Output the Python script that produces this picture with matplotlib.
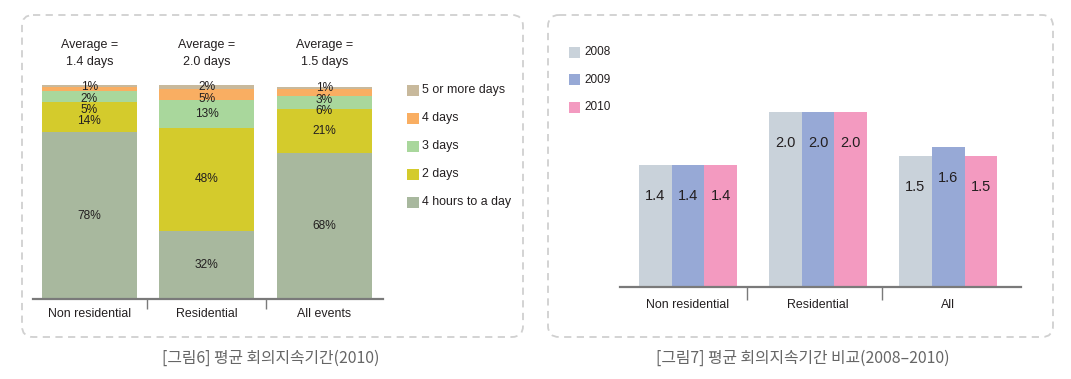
import matplotlib
matplotlib.use("Agg")
import matplotlib.pyplot as plt
from matplotlib.patches import FancyBboxPatch, Rectangle
import numpy as np

# ---------------- data ----------------
stack_categories = ["Non residential", "Residential", "All events"]
stack_averages = ["1.4", "2.0", "1.5"]
duration_levels = ["4 hours to a day", "2 days", "3 days", "4 days", "5 or more days"]
share_4h = [78, 32, 68]
share_2d = [14, 48, 21]
share_3d = [5, 13, 6]
share_4d = [2, 5, 3]
share_5d = [1, 2, 1]

year_categories = ["Non residential", "Residential", "All"]
years = ["2008", "2009", "2010"]
avg_2008 = [1.4, 2.0, 1.5]
avg_2009 = [1.4, 2.0, 1.6]
avg_2010 = [1.4, 2.0, 1.5]

caption_left = "[그림6] 평균 회의지속기간(2010)"
caption_right = "[그림7] 평균 회의지속기간 비교(2008–2010)"

# ---------------- style ----------------
stack_colors = ["#a8b89e", "#d4cb2c", "#a9d79c", "#f9ae62", "#c8b99c"]
year_colors = ["#c9d2da", "#97a9d6", "#f39ac0"]
TXT = "#231f20"
AXC = "#7a7a7a"

W, H = 1071, 379
fig = plt.figure(figsize=(W / 100, H / 100), dpi=100)
fig.patch.set_facecolor("white")

KR = ["Noto Sans CJK KR", "DejaVu Sans"]
plt.rcParams["font.family"] = ["Liberation Sans", "DejaVu Sans"]


def px_axes(x0, y0, x1, y1, **kw):
    return fig.add_axes([x0 / W, 1 - y1 / H, (x1 - x0) / W, (y1 - y0) / H], **kw)


# background overlay (panels, legends)
bg = px_axes(0, 0, W, H, zorder=0)
bg.set_xlim(0, W)
bg.set_ylim(H, 0)
bg.axis("off")
for (x0, y0, x1, y1) in [(22, 15, 523, 337), (548, 15, 1053, 337)]:
    bg.add_patch(FancyBboxPatch((x0, y0), x1 - x0, y1 - y0,
                                boxstyle="round,pad=0,rounding_size=11",
                                fc="none", ec="#d0d0d0", lw=1.3, ls=(0, (4, 3))))

fig.text(271 / W, 1 - 358 / H, caption_left, family=KR, fontsize=11.4,
         color="#666666", ha="center", va="center")
fig.text(803 / W, 1 - 358 / H, caption_right, family=KR, fontsize=11.4,
         color="#666666", ha="center", va="center")


def style_axes(ax, seps, sep_len):
    for s in ["left", "right", "top"]:
        ax.spines[s].set_visible(False)
    ax.spines["bottom"].set_color(AXC)
    ax.spines["bottom"].set_linewidth(1.6)
    ax.set_yticks([])
    ax.set_xticks([])
    ax.set_xticks(seps, minor=True)
    ax.tick_params(axis="x", which="minor", length=sep_len, width=1.0, color=AXC,
                   labelbottom=False)
    ax.patch.set_alpha(0)


# ---------------- left: stacked bars ----------------
L_TOP, L_BASE = 85, 299
axL = px_axes(33, L_TOP, 383, L_BASE, zorder=1)
xL = np.arange(len(stack_categories))
segments = [np.asarray(s, float) for s in [share_4h, share_2d, share_3d, share_4d, share_5d]]
bottom = np.zeros(len(xL))
bottoms = []
for vals, col in zip(segments, stack_colors):
    axL.bar(xL, vals, 0.81, bottom=bottom, color=col, lw=0)
    bottoms.append(bottom.copy())
    bottom += vals
axL.set_xlim(-0.48, 2.5)
axL.set_ylim(0, 100)
style_axes(axL, [0.49, 1.5], 7.2)

# segment labels: centred in segment, pushed apart where segments are thin
px_per_unit = (L_BASE - L_TOP) / 100.0
gap = 11.5
for i, xi in enumerate(xL):
    prev = None
    for k in range(len(segments) - 1, -1, -1):  # from top segment downward
        v = segments[k][i]
        centre = bottoms[k][i] + v / 2
        want = L_BASE - centre * px_per_unit  # pixel row
        if prev is None:
            want = max(want, L_TOP + 2)
        else:
            want = max(want, prev + gap)
        prev = want
        axL.annotate(f"{v:g}%", (xi, centre), xytext=(0, -(want - (L_BASE - centre * px_per_unit))),
                     textcoords="offset pixels", ha="center", va="center",
                     fontsize=8.6, color=TXT)

for xi, cat, avg in zip(xL, stack_categories, stack_averages):
    axL.annotate("Average =", (xi, 100), xytext=(0, 40), textcoords="offset pixels",
                 ha="center", va="center", fontsize=9, color=TXT)
    axL.annotate(f"{avg} days", (xi, 100), xytext=(0, 23), textcoords="offset pixels",
                 ha="center", va="center", fontsize=9, color=TXT)
    axL.annotate(cat, (xi, 0), xytext=(0, -15), textcoords="offset pixels",
                 ha="center", va="center", fontsize=8.9, color=TXT)

for i, (lab, col) in enumerate(reversed(list(zip(duration_levels, stack_colors)))):
    yc = 90.5 + i * 28
    bg.add_patch(Rectangle((407, yc - 5.5), 12, 11, color=col, lw=0))
    bg.text(422, yc, lab, va="center", ha="left", fontsize=8.9, color=TXT)

# ---------------- right: grouped bars ----------------
axR = px_axes(620, 112, 1021, 287.3, zorder=1)
xR = np.arange(len(year_categories))
bw = 0.2515
for j, (yr, vals, col) in enumerate(zip(years, [avg_2008, avg_2009, avg_2010], year_colors)):
    xs = xR + (j - 1) * bw
    axR.bar(xs, vals, bw, color=col, lw=0)
    for xi, v in zip(xs, vals):
        axR.annotate(f"{v:.1f}", (xi, v), xytext=(0, -31), textcoords="offset pixels",
                     ha="center", va="center", fontsize=10.5, color=TXT)
axR.set_xlim(-0.523, 2.56)
axR.set_ylim(0, 2.0)
style_axes(axR, [0.454, 1.49], 9.4)
for xi, cat in zip(xR, year_categories):
    axR.annotate(cat, (xi, 0), xytext=(0, -18), textcoords="offset pixels",
                 ha="center", va="center", fontsize=8.9, color=TXT)

for i, (yr, col) in enumerate(zip(years, year_colors)):
    yc = 52 + i * 27.7
    bg.add_patch(Rectangle((569, yc - 5.5), 11, 11, color=col, lw=0))
    bg.text(584, yc, yr, va="center", ha="left", fontsize=8.5, color=TXT)

fig.savefig("out.png", dpi=100, facecolor="white")
